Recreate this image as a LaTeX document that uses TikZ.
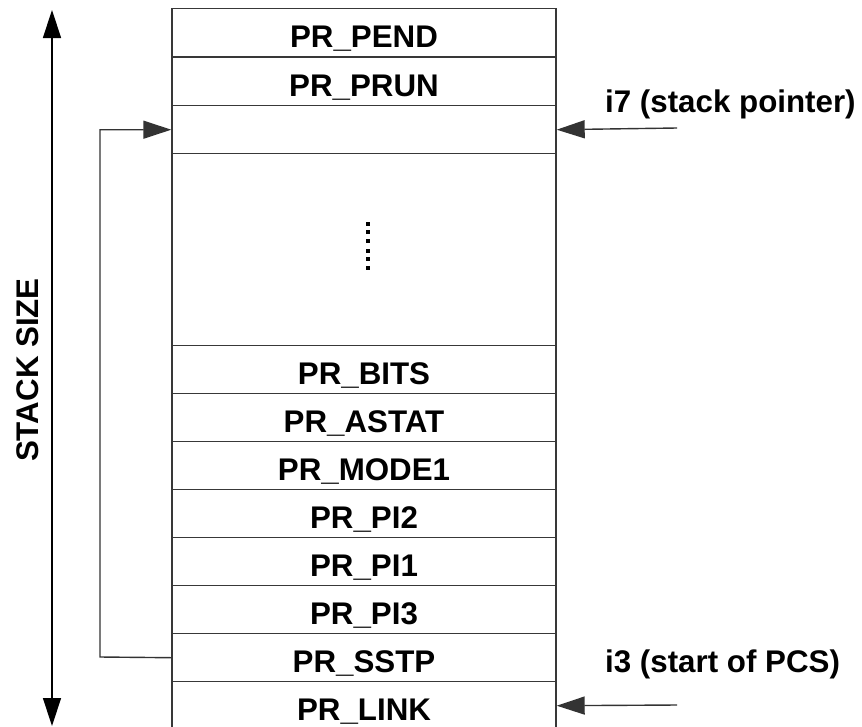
\documentclass[tikz,border=0pt]{standalone}
\usepackage{fontspec}
\setmainfont{Liberation Sans}
\usetikzlibrary{arrows.meta}
\begin{document}
\begin{tikzpicture}[x=1pt,y=-1pt,
  font=\fontsize{31.3}{37}\selectfont\bfseries,
  cell/.style={draw=black!78, line width=1.4pt, minimum width=384pt,
    minimum height=#1, inner sep=0pt, anchor=north,
    text height=29.5pt, text depth=0pt},
  cell/.default=48pt,
  ptr/.style={draw=black!80, line width=1.4pt,
    -{Triangle[length=28pt,width=18pt]}},
  dotmark/.style={fill=black, minimum size=4pt, inner sep=0pt}]
\useasboundingbox (0,0) rectangle (862,726);

% stack frame rows, top to bottom
\node[cell] (pend)  at (364,8)   {PR\_PEND};
\node[cell] (prun)  at (364,57)  {PR\_PRUN};
\node[cell] (free)  at (364,105) {};
\node[cell=192pt] (gap) at (364,153) {};
\node[cell] (bits)  at (364,345) {PR\_BITS};
\node[cell] (astat) at (364,393) {PR\_ASTAT};
\node[cell] (mode)  at (364,441) {PR\_MODE1};
\node[cell] (pitwo) at (364,489) {PR\_PI2};
\node[cell] (pione) at (364,537) {PR\_PI1};
\node[cell] (pithr) at (364,585) {PR\_PI3};
\node[cell] (sstp)  at (364,633) {PR\_SSTP};
\node[cell] (link)  at (364,681) {PR\_LINK};

% vertical ellipsis in the unused region
\foreach \y [count=\i] in {224,232,241,251,259,268}
  \node[dotmark] (dot\i) at (368,\y) {};

% saved stack pointer loops back to the free slot
\draw[ptr] (sstp.west) -- (100,657) |- (free.west);

% register pointers
\coordinate (spsrc) at (677,128);
\coordinate (pcssrc) at (677,705);
\draw[ptr] (spsrc) -- (free.east);
\draw[ptr] (pcssrc) -- (link.east);
\node[anchor=base west, inner sep=0pt] (splabel) at (605,112) {i7 (stack pointer)};
\node[anchor=base west, inner sep=0pt] (pcslabel) at (605,672) {i3 (start of PCS)};

% overall stack size
\coordinate (sizetop) at (52,10);
\coordinate (sizebot) at (52,726);
\draw[line width=1.4pt, {Triangle[length=28pt,width=18pt]}-{Triangle[length=28pt,width=18pt]}] (sizetop) -- (sizebot);
\node[rotate=90, inner sep=0pt] (sizelabel) at (28,370) {STACK SIZE};
\end{tikzpicture}
\end{document}
